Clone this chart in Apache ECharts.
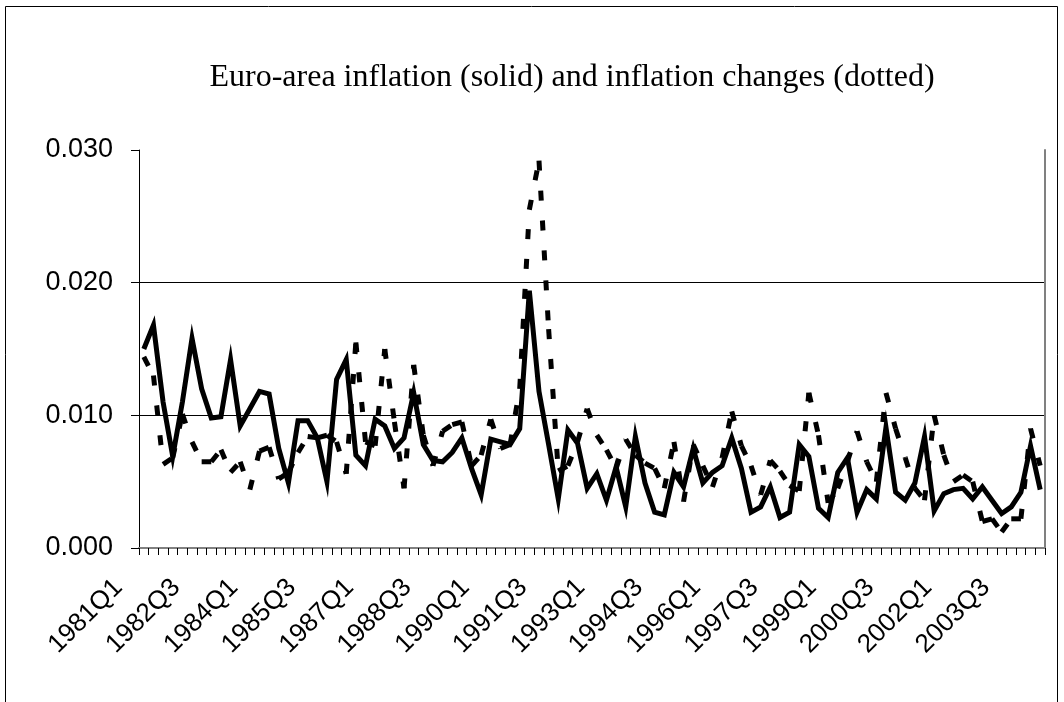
<!DOCTYPE html>
<html lang="en">
  <head>
    <meta charset="UTF-8" />
    <title>Euro-area inflation</title>
    <script src="https://cdn.jsdelivr.net/npm/echarts@6/dist/echarts.min.js"></script>
    <style>
      html,
      body {
        margin: 0;
        padding: 0;
        background: #fff;
      }
      #chart {
        width: 1064px;
        height: 702px;
      }
    </style>
  </head>
  <body>
    <div id="chart"></div>
    <script>
      // quarterly data, 1981Q1 .. 2004Q2
      const firstYear = 1981;
      const quarterCount = 94;
      const quarters = [];
      for (let i = 0; i < quarterCount; i++) {
        quarters.push(firstYear + Math.floor(i / 4) + "Q" + ((i % 4) + 1));
      }

      // solid line: inflation
      const inflation = [
        0.0150, 0.0168, 0.0110, 0.0069, 0.0110, 0.0158, 0.0120, 0.0098, 0.0099, 0.0142,
        0.0092, 0.0105, 0.0118, 0.0116, 0.0075, 0.0049, 0.0096, 0.0096, 0.0083, 0.0050,
        0.0127, 0.0142, 0.0070, 0.0062, 0.0097, 0.0092, 0.0075, 0.0083, 0.0117, 0.0078,
        0.0066, 0.0065, 0.0072, 0.0083, 0.0060, 0.0040, 0.0082, 0.0080, 0.0078, 0.0090,
        0.0194, 0.0118, 0.0078, 0.0037, 0.0089, 0.0079, 0.0045, 0.0056, 0.0036, 0.0061,
        0.0031, 0.0084, 0.0049, 0.0027, 0.0025, 0.0057, 0.0046, 0.0075, 0.0049, 0.0057,
        0.0062, 0.0083, 0.0060, 0.0027, 0.0031, 0.0046, 0.0023, 0.0027, 0.0078, 0.0069,
        0.0030, 0.0023, 0.0057, 0.0068, 0.0027, 0.0044, 0.0037, 0.0091, 0.0042, 0.0036,
        0.0049, 0.0084, 0.0028, 0.0041, 0.0044, 0.0045, 0.0037, 0.0046, 0.0036, 0.0026,
        0.0031, 0.0042, 0.0077, 0.0044
      ];

      // dotted line: inflation changes
      const changes = [
        0.0144, 0.0130, 0.0063, 0.0068, 0.0101, 0.0080, 0.0065, 0.0065, 0.0074, 0.0057,
        0.0065, 0.0044, 0.0073, 0.0076, 0.0052, 0.0057, 0.0072, 0.0084, 0.0083, 0.0085,
        0.0080, 0.0056, 0.0155, 0.0080, 0.0077, 0.0150, 0.0095, 0.0045, 0.0138, 0.0085,
        0.0062, 0.0088, 0.0093, 0.0095, 0.0062, 0.0070, 0.0097, 0.0075, 0.0078, 0.0120,
        0.0255, 0.0292, 0.0165, 0.0058, 0.0062, 0.0080, 0.0105, 0.0085, 0.0074, 0.0060,
        0.0082, 0.0070, 0.0064, 0.0060, 0.0045, 0.0080, 0.0035, 0.0078, 0.0062, 0.0046,
        0.0068, 0.0103, 0.0077, 0.0062, 0.0040, 0.0066, 0.0058, 0.0047, 0.0043, 0.0117,
        0.0085, 0.0034, 0.0045, 0.0065, 0.0088, 0.0065, 0.0050, 0.0117, 0.0090, 0.0068,
        0.0045, 0.0036, 0.0100, 0.0070, 0.0050, 0.0055, 0.0050, 0.0020, 0.0022, 0.0012,
        0.0022, 0.0022, 0.0090, 0.0062
      ];

      const yTicks = [0, 0.01, 0.02, 0.03];

      // each dotted segment is drawn on its own so the dash restarts at every point
      const changeSegments = [];
      for (let i = 0; i < changes.length - 1; i++) {
        changeSegments.push([i, changes[i], changes[i + 1]]);
      }

      const chart = echarts.init(document.getElementById("chart"));
      const option = {
        animation: false,
        backgroundColor: "#fff",
        graphic: [
          {
            type: "rect",
            shape: { x: 5.5, y: 6.5, width: 1052, height: 800 },
            style: { fill: "none", stroke: "#000", lineWidth: 1 },
            silent: true,
          },
          {
            type: "text",
            x: 572,
            y: 78,
            style: {
              text: "Euro-area inflation (solid) and inflation changes (dotted)",
              font: '32px "Liberation Serif"',
              fill: "#000",
              textAlign: "center",
              textVerticalAlign: "middle",
            },
          },
        ],
        grid: {
          left: 139,
          right: 19,
          top: 150,
          bottom: 154,
        },
        xAxis: [
          {
            type: "category",
            data: quarters,
            boundaryGap: true,
            axisLine: { show: true, lineStyle: { color: "#000", width: 1 } },
            axisTick: {
              show: true,
              interval: 0,
              length: 7,
              lineStyle: { color: "#000" },
            },
            axisLabel: {
              interval: 5,
              rotate: 45,
              margin: 10,
              padding: [0, 36, 0, 0],
              color: "#000",
              fontSize: 26,
              fontFamily: "Liberation Sans",
            },
            splitLine: { show: false },
          },
          {
            type: "category",
            data: quarters,
            position: "top",
            axisLine: { show: true, lineStyle: { color: "#808080", width: 2 } },
            axisTick: { show: false },
            axisLabel: { show: false },
          },
        ],
        yAxis: [
          {
            type: "value",
            min: yTicks[0],
            max: yTicks[yTicks.length - 1],
            interval: 0.01,
            axisLine: { show: true, lineStyle: { color: "#000", width: 1 } },
            axisTick: { show: true, length: 8, lineStyle: { color: "#000" } },
            axisLabel: {
              margin: 26,
              color: "#000",
              fontSize: 27,
              fontFamily: "Liberation Sans",
              formatter: (v) => v.toFixed(3),
            },
            splitLine: {
              show: true,
              showMinLine: false,
              showMaxLine: false,
              lineStyle: { color: "#000", width: 1 },
            },
          },
          {
            type: "value",
            position: "right",
            min: yTicks[0],
            max: yTicks[yTicks.length - 1],
            axisLine: { show: true, lineStyle: { color: "#808080", width: 2 } },
            axisTick: { show: false },
            axisLabel: { show: false },
            splitLine: { show: false },
          },
        ],
        series: [
          {
            name: "inflation",
            type: "line",
            xAxisIndex: 0,
            yAxisIndex: 0,
            data: inflation,
            symbol: "none",
            lineStyle: { color: "#000", width: 5, join: "miter" },
            z: 3,
          },
          {
            name: "inflation changes",
            type: "custom",
            xAxisIndex: 0,
            yAxisIndex: 0,
            data: changeSegments,
            encode: { x: 0, y: [1, 2] },
            clip: false,
            z: 4,
            renderItem: function (params, api) {
              const p0 = api.coord([api.value(0), api.value(1)]);
              const p1 = api.coord([api.value(0) + 1, api.value(2)]);
              return {
                type: "line",
                shape: { x1: p0[0], y1: p0[1], x2: p1[0], y2: p1[1] },
                style: {
                  stroke: "#000",
                  lineWidth: 5,
                  lineDash: [10, 20],
                  lineCap: "butt",
                },
              };
            },
          },
        ],
      };
      chart.setOption(option);
    </script>
  </body>
</html>
